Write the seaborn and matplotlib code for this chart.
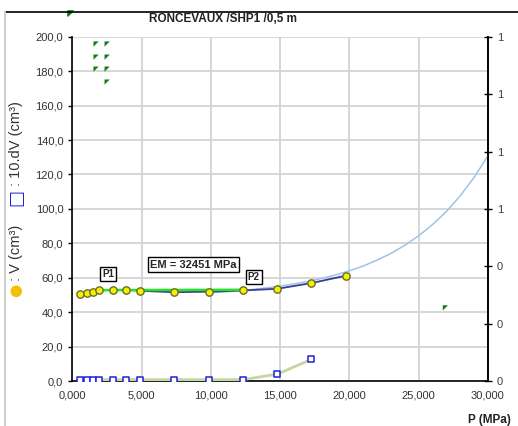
import numpy as np
import pandas as pd
import matplotlib
matplotlib.use("Agg")
import matplotlib.pyplot as plt
import seaborn as sns
from matplotlib.path import Path

# ---- data ----
P_pts = [560, 1090, 1500, 1940, 2930, 3910, 4900, 7350, 9880, 12320, 14810, 17270, 19740]
V_pts = [50.5, 51.2, 52.0, 52.6, 53.0, 53.0, 52.4, 51.6, 51.9, 52.6, 53.6, 56.9, 61.2]
P_dv = [560, 1090, 1500, 1940, 2930, 3910, 4900, 7350, 9880, 12320, 14810, 17270]
dV10 = [0.3, 0.3, 0.8, 0.8, 0.8, 0.8, 0.8, 0.8, 0.8, 0.8, 4.0, 12.6]
P_fit = [10000, 11000, 12000, 13000, 14000, 15000, 16000, 17000, 18000, 19000, 20000,
         21000, 22000, 23000, 24000, 25000, 26000, 27000, 28000, 29000, 30000]
V_fit = [51.3, 51.8, 52.4, 53.2, 54.1, 55.1, 56.4, 57.8, 59.6, 61.6, 64.0,
         66.8, 70.2, 74.1, 78.8, 84.3, 90.8, 98.4, 107.5, 118.1, 130.7]
P_em = [1840, 12320]
V_em = [52.8, 53.0]
P_flag = [1717, 2515, 1717, 2515, 1717, 2515, 2515, 26940]
V_flag = [195.8, 195.8, 188.2, 188.2, 181.2, 181.2, 173.7, 42.5]
x_ticks = [0, 5000, 10000, 15000, 20000, 25000, 30000]
x_labels = ["0,000", "5,000", "10,000", "15,000", "20,000", "25,000", "30,000"]
y_ticks = [0, 20, 40, 60, 80, 100, 120, 140, 160, 180, 200]
y_labels = ["0,0", "20,0", "40,0", "60,0", "80,0", "100,0", "120,0", "140,0", "160,0", "180,0", "200,0"]
r_ticks = [0, 0.2, 0.4, 0.6, 0.8, 1.0, 1.2]
r_labels = ["0", "0", "0", "1", "1", "1", "1"]
title = "RONCEVAUX /SHP1 /0,5 m"
em_text = "EM = 32451 MPa"

sns.set_style("white")
plt.rcParams['font.family'] = ['Liberation Sans', 'DejaVu Sans']

fig = plt.figure(figsize=(5.18, 4.26), dpi=100)
ax = fig.add_axes([0.1396, 0.1056, 0.802, 0.808])

df_v = pd.DataFrame({"P": P_pts, "V": V_pts})
df_dv = pd.DataFrame({"P": P_dv, "dV": dV10})
df_fit = pd.DataFrame({"P": P_fit, "V": V_fit})
df_em = pd.DataFrame({"P": P_em, "V": V_em})
df_fl = pd.DataFrame({"P": P_flag, "V": V_flag})

# dV curve (olive) + squares
sns.lineplot(data=df_dv, x="P", y="dV", ax=ax, color="#c5d6a0", lw=2, zorder=3)
sns.scatterplot(data=df_dv, x="P", y="dV", ax=ax, marker="s", s=16, facecolor="white",
                edgecolor="#1f1fe0", linewidth=1.1, zorder=5)
# exponential fit (light blue)
sns.lineplot(data=df_fit, x="P", y="V", ax=ax, color="#9ec3ea", lw=1.1, zorder=3)
# navy connecting line
sns.lineplot(data=df_v, x="P", y="V", ax=ax, color="#3c3c96", lw=1.3, zorder=4)
# EM line
sns.lineplot(data=df_em, x="P", y="V", ax=ax, color="#22e622", lw=1.8, zorder=4)
# yellow points
sns.scatterplot(data=df_v, x="P", y="V", ax=ax, marker="o", s=28, color="#f2f200",
                edgecolor="#6b6b2a", linewidth=1.0, zorder=6)
# green flag markers
flag = Path([(-1, 1), (1, 1), (-1, -1), (-1, 1)], [Path.MOVETO, Path.LINETO, Path.LINETO, Path.CLOSEPOLY])
sns.scatterplot(data=df_fl, x="P", y="V", ax=ax, marker=flag, s=14, color="#127a12",
                edgecolor="none", zorder=6)
ax.scatter([-150], [214], marker=flag, s=14, color="#127a12", clip_on=False, zorder=6)

ax.set_xlim(0, 30000)
ax.set_ylim(0, 200)
ax.set_xticks(x_ticks)
ax.set_xticklabels(x_labels)
ax.set_yticks(y_ticks)
ax.set_yticklabels(y_labels)
ax.set_xlabel("")
ax.set_ylabel("")
ax.grid(True, color="#d4d4d4", lw=1.3)
ax.set_axisbelow(True)
ax.spines["top"].set_visible(False)
for s in ["left", "bottom", "right"]:
    ax.spines[s].set_color("black")
    ax.spines[s].set_linewidth(1.2)
ax.tick_params(axis="both", labelsize=8, colors="#333333", length=3, width=1, direction="out")
ax.tick_params(axis="both", color="black")

ax2 = ax.twinx()
ax2.set_ylim(0, 1.2)
ax2.set_yticks(r_ticks)
ax2.set_yticklabels(r_labels)
ax2.tick_params(axis="y", labelsize=8, colors="#4a3838", direction="inout", length=6, width=1, color="black")
for s in ["top", "left", "bottom"]:
    ax2.spines[s].set_visible(False)
ax2.spines["right"].set_color("black")
ax2.spines["right"].set_linewidth(1.2)
ax2.grid(False)

# annotations
bbox = dict(boxstyle="square,pad=0.2", fc="white", ec="black", lw=1)
ax.text(8750, 67.6, em_text, ha="center", va="center", fontsize=8, fontweight="bold", bbox=bbox, zorder=7)
ax.text(2590, 62.4, "P1", ha="center", va="center", fontsize=7, fontweight="bold", bbox=bbox, zorder=7)
ax.text(13100, 60.6, "P2", ha="center", va="center", fontsize=7, fontweight="bold", bbox=bbox, zorder=7)

# title and labels
fig.text(0.43, 0.956, title, ha="center", va="center", fontsize=8.5, fontweight="bold", color="#222222")
fig.text(0.945, 0.014, "P (MPa)", ha="center", va="center", fontsize=8.5, fontweight="bold", color="#222222")

fig.text(16/518, 1 - 290/426, "●", rotation=90, ha="center", va="center", fontsize=11, color="#f5c000",
         family=["DejaVu Sans"])
fig.text(16/518, 1 - 253/426, ": V (cm³)", rotation=90, ha="center", va="center", fontsize=10.5, color="#333333")
fig.text(16/518, 1 - 197/426, "□", rotation=90, ha="center", va="center", fontsize=13, color="#1f1fe0",
         fontweight="bold", family=["DejaVu Sans"])
fig.text(16/518, 1 - 144/426, ": 10.dV (cm³)", rotation=90, ha="center", va="center", fontsize=10.5, color="#333333")

# frame lines
fig.add_artist(plt.Line2D([5/518, 1], [1 - 12/426, 1 - 12/426], color="black", lw=1.2, transform=fig.transFigure))
fig.add_artist(plt.Line2D([5/518, 5/518], [0, 1 - 12/426], color="#d0d0d0", lw=1.5, transform=fig.transFigure))

fig.savefig("out.png", dpi=100)
